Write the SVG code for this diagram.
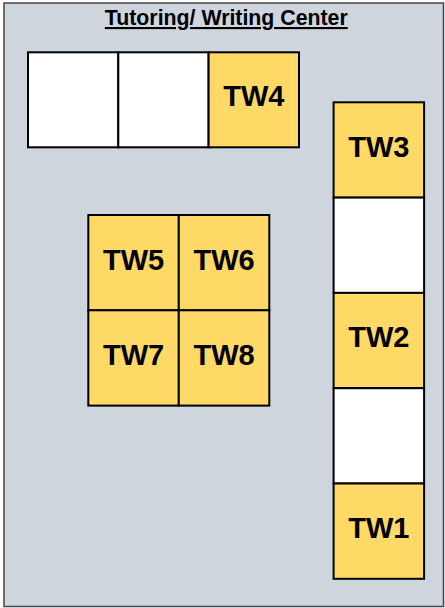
<svg xmlns="http://www.w3.org/2000/svg" width="445" height="608" viewBox="0 0 445 608">
<style>
.c{stroke:#000;stroke-width:2}
.y{fill:#ffd966}
.w{fill:#fff}
.t{font-family:"Liberation Sans",Arial,sans-serif;font-weight:bold;font-size:29px;text-anchor:middle;fill:#000}
</style>
<g id="room">
<rect x="4" y="3" width="439.5" height="603.5" fill="#cfd5dd" stroke="#444" stroke-width="1.5"/>
<text x="226.3" y="25" font-family="Liberation Sans, Arial, sans-serif" font-weight="bold" font-size="21.3" text-anchor="middle" text-decoration="underline" fill="#000">Tutoring/ Writing Center</text>
</g>
<g id="top-row">
<rect class="c w" x="28" y="52.3" width="90.3" height="95"/>
<rect class="c w" x="118.3" y="52.3" width="90.3" height="95"/>
<g id="TW4"><rect class="c y" x="208.6" y="52.3" width="90.4" height="95"/><text class="t" x="253.8" y="105.7">TW4</text></g>
</g>
<g id="right-column">
<g id="TW3"><rect class="c y" x="333.6" y="102.3" width="90.5" height="95.3"/><text class="t" x="378.9" y="156.7">TW3</text></g>
<rect class="c w" x="333.6" y="197.6" width="90.5" height="95.3"/>
<g id="TW2"><rect class="c y" x="333.6" y="292.9" width="90.5" height="95.3"/><text class="t" x="378.9" y="347.3">TW2</text></g>
<rect class="c w" x="333.6" y="388.2" width="90.5" height="95.3"/>
<g id="TW1"><rect class="c y" x="333.6" y="483.5" width="90.5" height="95.3"/><text class="t" x="378.9" y="537.9">TW1</text></g>
</g>
<g id="middle">
<g id="TW5"><rect class="c y" x="88.3" y="215" width="90.5" height="95.3"/><text class="t" x="133.6" y="269.8">TW5</text></g>
<g id="TW6"><rect class="c y" x="178.8" y="215" width="90.5" height="95.3"/><text class="t" x="224.1" y="269.8">TW6</text></g>
<g id="TW7"><rect class="c y" x="88.3" y="310.3" width="90.5" height="95.3"/><text class="t" x="133.6" y="365.1">TW7</text></g>
<g id="TW8"><rect class="c y" x="178.8" y="310.3" width="90.5" height="95.3"/><text class="t" x="224.1" y="365.1">TW8</text></g>
</g>
<g id="connectors"/>
</svg>
